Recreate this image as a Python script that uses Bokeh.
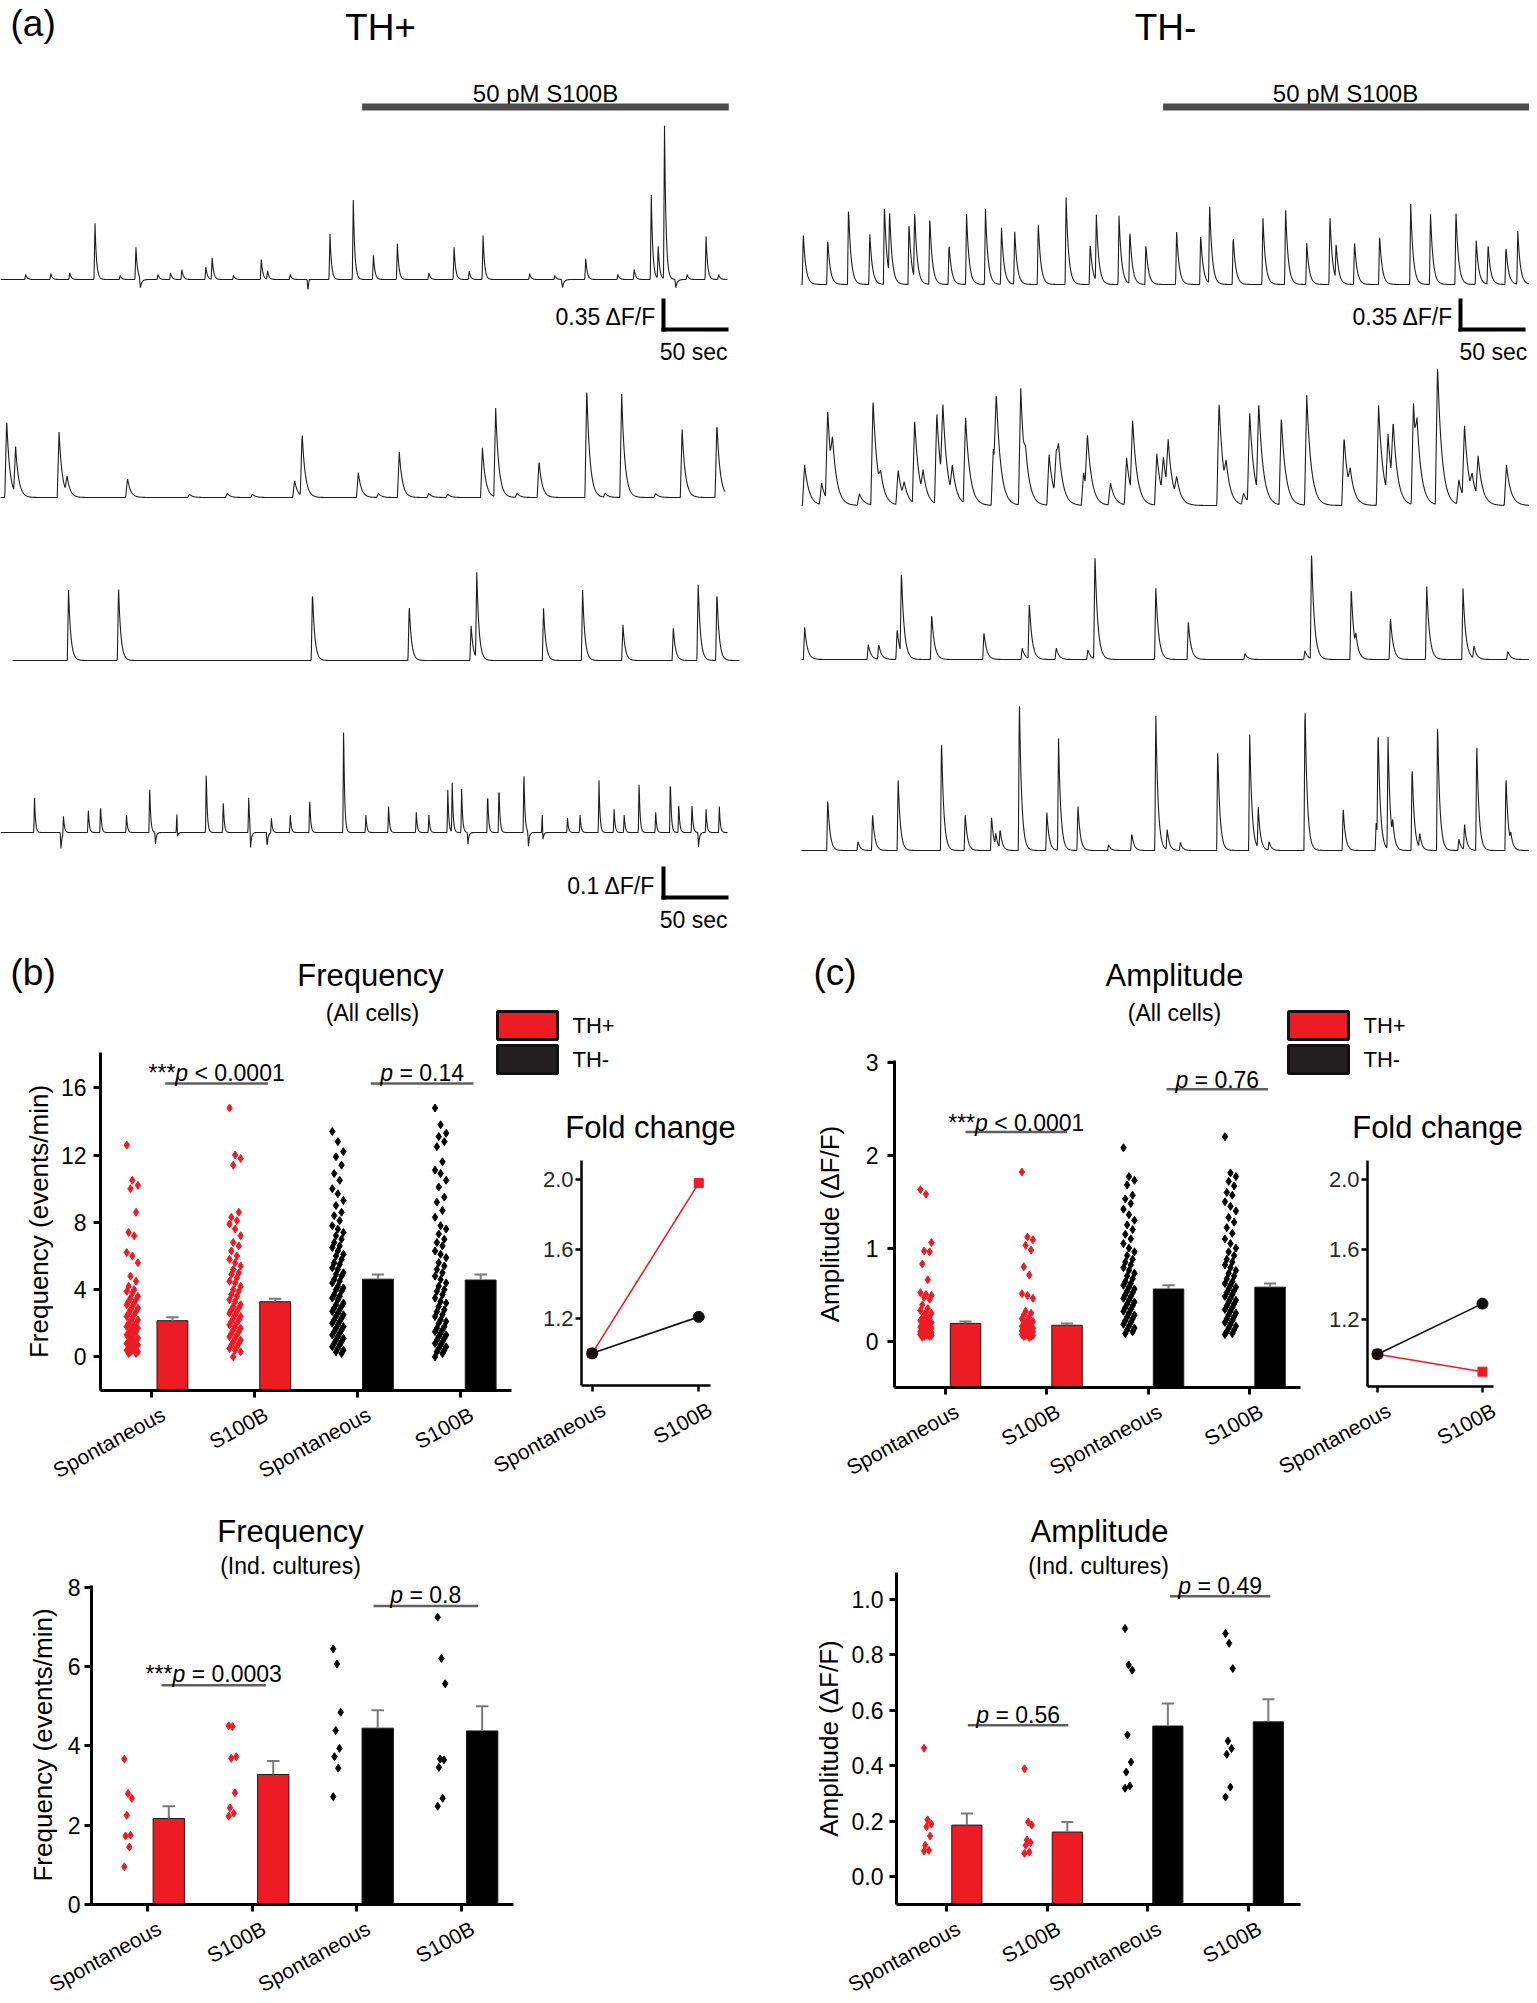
import numpy as np
from bokeh.plotting import figure
from bokeh.layouts import column
from bokeh.models import (Range1d, FixedTicker, Label, NumeralTickFormatter)
from bokeh.embed import file_html
from bokeh.resources import INLINE

# ======================= DATA =======================
categories = ["Spontaneous", "S100B", "Spontaneous", "S100B"]
cell_types = ["TH+", "TH+", "TH-", "TH-"]
legend_labels = ["TH+", "TH-"]
fold_categories = ["Spontaneous", "S100B"]

# --- (b) frequency, all cells (events/min)
freq_all_thp_spont = [12.6, 10.5, 10.2, 10.0, 8.6, 7.4, 7.2, 6.2, 6.0, 5.6, 4.8, 4.5, 4.2, 4.0, 3.9, 3.8,
                      3.6, 3.5, 3.4, 3.3, 3.2, 3.1, 3.0, 2.9, 2.8, 2.7, 2.6, 2.5, 2.4, 2.3, 2.2, 2.1, 2.0,
                      2.0, 1.9, 1.8, 1.7, 1.7, 1.6, 1.5, 1.4, 1.4, 1.3, 1.2, 1.1, 1.1, 1.0, 0.9, 0.9, 0.8,
                      0.8, 0.7, 0.6, 0.6, 0.5, 0.5, 0.4, 0.4, 0.3, 0.3, 0.2, 0.2]
freq_all_thp_s100b = [14.8, 12.0, 11.8, 11.4, 8.6, 8.3, 8.1, 7.9, 7.6, 7.2, 6.8, 6.6, 6.3, 6.0, 5.8, 5.6,
                      5.4, 5.2, 5.0, 4.9, 4.7, 4.5, 4.4, 4.2, 4.0, 3.9, 3.7, 3.6, 3.4, 3.3, 3.1, 3.0, 2.9,
                      2.8, 2.7, 2.6, 2.5, 2.4, 2.3, 2.2, 2.1, 2.0, 1.9, 1.8, 1.7, 1.6, 1.5, 1.4, 1.3, 1.2,
                      1.1, 1.0, 0.9, 0.8, 0.7, 0.6, 0.5, 0.4, 0.3, 0.0]
freq_all_thm_spont = [13.4, 12.8, 12.2, 11.9, 11.4, 10.9, 10.5, 10.0, 9.7, 9.3, 9.0, 8.6, 8.4, 8.1, 7.8,
                      7.6, 7.4, 7.2, 7.0, 6.8, 6.6, 6.5, 6.3, 6.1, 6.0, 5.8, 5.6, 5.5, 5.3, 5.2, 5.0, 4.9,
                      4.8, 4.6, 4.5, 4.4, 4.2, 4.1, 4.0, 3.9, 3.7, 3.6, 3.5, 3.4, 3.2, 3.1, 3.0, 2.9, 2.8,
                      2.7, 2.6, 2.5, 2.4, 2.3, 2.2, 2.1, 2.0, 1.9, 1.8, 1.7, 1.6, 1.5, 1.4, 1.3, 1.2, 1.1,
                      1.0, 0.9, 0.8, 0.7, 0.6, 0.5, 0.4, 0.3, 0.2]
freq_all_thm_s100b = [14.8, 13.8, 13.3, 13.1, 12.8, 12.5, 11.6, 11.1, 10.9, 10.5, 10.1, 9.5, 9.2, 8.7, 8.3,
                      7.8, 7.6, 7.3, 7.0, 6.8, 6.6, 6.3, 6.1, 5.9, 5.6, 5.4, 5.2, 5.0, 4.8, 4.6, 4.4, 4.2,
                      4.0, 3.9, 3.7, 3.5, 3.3, 3.2, 3.0, 2.8, 2.7, 2.5, 2.4, 2.2, 2.1, 2.0, 1.8, 1.7, 1.6,
                      1.5, 1.4, 1.3, 1.2, 1.1, 1.0, 0.9, 0.8, 0.7, 0.6, 0.5, 0.4, 0.3, 0.2, 0.0]
freq_all_mean = [2.15, 3.28, 4.62, 4.57]
freq_all_sem = [0.20, 0.17, 0.28, 0.33]

# --- (c) amplitude, all cells (dF/F)
amp_all_thp_spont = [1.63, 1.58, 1.06, 0.97, 0.96, 0.83, 0.66, 0.52, 0.50, 0.49, 0.47, 0.45, 0.39, 0.35,
                     0.33, 0.31, 0.30, 0.28, 0.26, 0.25, 0.24, 0.22, 0.21, 0.20, 0.19, 0.18, 0.17, 0.16,
                     0.15, 0.14, 0.14, 0.13, 0.12, 0.12, 0.11, 0.10, 0.10, 0.09, 0.09, 0.08, 0.08, 0.07,
                     0.07, 0.06, 0.06, 0.05, 0.05, 0.04]
amp_all_thp_s100b = [1.82, 1.12, 1.09, 1.03, 0.98, 0.80, 0.71, 0.51, 0.49, 0.46, 0.32, 0.30, 0.28, 0.26,
                     0.24, 0.22, 0.21, 0.20, 0.19, 0.18, 0.17, 0.16, 0.15, 0.14, 0.13, 0.13, 0.12, 0.11,
                     0.11, 0.10, 0.10, 0.09, 0.09, 0.08, 0.08, 0.07, 0.07, 0.06, 0.06, 0.05, 0.05, 0.04]
amp_all_thm_spont = [2.08, 1.77, 1.73, 1.68, 1.57, 1.53, 1.48, 1.42, 1.36, 1.30, 1.25, 1.20, 1.15, 1.10,
                     1.05, 1.00, 0.96, 0.92, 0.88, 0.85, 0.82, 0.79, 0.76, 0.73, 0.70, 0.67, 0.64, 0.62,
                     0.60, 0.58, 0.56, 0.54, 0.52, 0.50, 0.48, 0.46, 0.44, 0.42, 0.40, 0.38, 0.36, 0.34,
                     0.32, 0.30, 0.28, 0.26, 0.24, 0.22, 0.20, 0.18, 0.16, 0.14, 0.12, 0.10, 0.08]
amp_all_thm_s100b = [2.20, 1.81, 1.77, 1.72, 1.67, 1.60, 1.57, 1.50, 1.45, 1.40, 1.33, 1.28, 1.22, 1.16,
                     1.10, 1.05, 1.00, 0.96, 0.92, 0.88, 0.85, 0.82, 0.79, 0.76, 0.73, 0.70, 0.67, 0.64,
                     0.62, 0.60, 0.58, 0.56, 0.54, 0.52, 0.50, 0.48, 0.46, 0.44, 0.42, 0.40, 0.38, 0.36,
                     0.34, 0.32, 0.30, 0.28, 0.26, 0.24, 0.22, 0.20, 0.18, 0.16, 0.14, 0.12, 0.10, 0.08,
                     0.07]
amp_all_mean = [0.19, 0.17, 0.56, 0.58]
amp_all_sem = [0.02, 0.02, 0.04, 0.04]

# --- fold change (S100B / spontaneous)
fold_freq_thp = [1.00, 1.98]
fold_freq_thm = [1.00, 1.21]
fold_amp_thp = [1.00, 0.90]
fold_amp_thm = [1.00, 1.29]

# --- independent cultures
freq_ind_thp_spont = [3.67, 2.80, 2.68, 2.25, 1.75, 1.73, 1.45, 0.95]
freq_ind_thp_s100b = [4.51, 4.49, 3.73, 3.69, 2.82, 2.44, 2.30, 2.23]
freq_ind_thm_spont = [6.45, 6.07, 4.85, 4.39, 3.94, 3.73, 3.44, 2.72]
freq_ind_thm_s100b = [7.25, 6.21, 5.57, 3.67, 3.65, 3.46, 2.68, 2.48]
freq_ind_mean = [2.17, 3.28, 4.45, 4.38]
freq_ind_sem = [0.31, 0.34, 0.45, 0.62]

amp_ind_thp_spont = [0.463, 0.205, 0.190, 0.180, 0.147, 0.113, 0.095, 0.092]
amp_ind_thp_s100b = [0.389, 0.197, 0.186, 0.132, 0.123, 0.113, 0.089, 0.084]
amp_ind_thm_spont = [0.894, 0.763, 0.744, 0.511, 0.413, 0.377, 0.327, 0.319]
amp_ind_thm_s100b = [0.876, 0.841, 0.750, 0.489, 0.462, 0.441, 0.323, 0.287]
amp_ind_mean = [0.186, 0.161, 0.543, 0.558]
amp_ind_sem = [0.042, 0.036, 0.081, 0.081]

# --- statistics text (stars, relation) and bracket heights
freq_all_p = [("***", "< 0.0001"), ("", "= 0.14")]
freq_all_sig_y = [16.25, 16.25]
amp_all_p = [("***", "< 0.0001"), ("", "= 0.76")]
amp_all_sig_y = [2.25, 2.71]
freq_ind_p = [("***", "= 0.0003"), ("", "= 0.8")]
freq_ind_sig_y = [5.53, 7.53]
amp_ind_p = [("", "= 0.56"), ("", "= 0.49")]
amp_ind_sig_y = [0.546, 1.01]

# --- (a) calcium traces: events (time s, amplitude dF/F); negative = dip
s100b_on, s100b_off = 287.0, 578.0
scale_sec = 50
scale_df = [0.35, 0.1]

th_pos_1 = [(20, 0.06), (40, 0.07), (55, 0.08), (75, 0.68), (95, 0.05), (107.5, 0.39), (111, -0.12),
            (125, 0.06), (135, 0.08), (144, 0.12), (163, 0.15), (168, 0.26), (185, 0.05), (207, 0.24),
            (212, 0.10), (230, 0.06), (244, -0.12), (245, 0.05), (261.5, 0.55), (280, 0.96), (296, 0.29),
            (315, 0.43), (340, 0.08), (360, 0.39), (372, 0.10), (383, 0.53), (420, 0.07), (440, 0.05),
            (446, -0.1), (464.5, 0.25), (490, 0.06), (503, 0.12), (516.5, 1.02), (522, 0.39), (527, 1.85),
            (536, -0.1), (545, 0.06), (560, 0.52), (570, 0.06)]
th_pos_2 = [(4.9, 0.94), (12, 0.56), (46.5, 0.79), (52.8, 0.20), (100.8, 0.23), (150, 0.04), (180, 0.05),
            (200, 0.04), (233.4, 0.21), (239.4, 0.76), (284, 0.30), (300, 0.05), (316.5, 0.55), (340, 0.05),
            (355, 0.04), (382.5, 0.60), (393, 1.07), (410, 0.05), (427.4, 0.44), (465.3, 1.31),
            (480, 0.05), (493, 1.25), (520, 0.05), (541, 0.82), (568.6, 0.90)]
th_pos_3 = [(54, 0.85), (93.7, 0.88), (247.6, 0.84), (324.4, 0.67), (373.5, 0.42), (378, 1.03),
            (431, 0.63), (462, 0.85), (494, 0.43), (534, 0.39), (553.7, 0.94), (568.6, 0.84)]
th_pos_4 = [(27, 0.12), (48, -0.055), (50, 0.06), (69.7, 0.08), (79.4, 0.095), (100, 0.06), (118.4, 0.167),
            (123, -0.04), (140, 0.07), (140.5, -0.05), (163.3, 0.213), (176.8, 0.11), (197, 0.12),
            (198.5, -0.07), (211.6, -0.05), (215, 0.05), (230, 0.06), (245.4, 0.12), (272.3, 0.376),
            (290, 0.06), (308, 0.09), (330, 0.07), (340, 0.06), (355, 0.147), (358.5, 0.17), (366, 0.15),
            (371, -0.04), (386.6, 0.14), (395.6, 0.165), (415.4, 0.22), (419, -0.05), (430, 0.07),
            (430.5, -0.06), (450, 0.05), (460, 0.06), (475, 0.18), (487, 0.08), (495, 0.06),
            (506.8, 0.18), (520, 0.07), (531.6, 0.19), (538.3, 0.10), (548.8, 0.10), (554, -0.05),
            (560, 0.08), (570.5, 0.09)]
th_neg_1 = [(1.4, 0.62), (20.8, 0.55), (37.3, 0.94), (54.2, 0.62), (65.8, 0.97), (69.9, 0.78), (85.3, 0.75),
            (89.8, 0.82), (101.8, 0.82), (117.1, 0.49), (131, 0.85), (146, 0.91), (158.7, 0.70),
            (169.2, 0.65), (187.9, 0.75), (210, 1.05), (229.1, 0.50), (234, 0.80), (252, 0.83),
            (260.6, 0.65), (273.3, 0.49), (297.7, 0.65), (316.8, 0.61), (323.9, 0.97), (342.6, 0.59),
            (366.2, 0.82), (384.2, 0.92), (401, 0.50), (419.4, 0.84), (424.3, 0.43), (438.9, 0.52),
            (458.8, 0.60), (483.5, 0.97), (499.2, 0.87), (519.4, 0.90), (535.5, 0.53), (544.9, 0.48),
            (559.1, 0.46), (568.5, 0.64)]
th_neg_2 = [(2.5, 0.49), (16, 0.26), (20.8, 1.09), (24.6, 0.45), (46, 0.14), (56.8, 1.27), (62.8, 0.2),
            (76.7, 0.42), (81.5, 0.18), (89.8, 1.01), (96.5, 0.28), (107.4, 1.11), (112.2, 0.95),
            (119.7, 0.35), (130.2, 1.05), (152.3, 0.7), (154.6, 1.0), (174, 1.41), (177.8, 0.25),
            (196.5, 0.61), (202.2, 0.55), (204, 0.35), (223.9, 0.40), (226.9, 0.7), (245.2, 0.27),
            (258, 0.57), (262.8, 0.9), (282, 0.62), (287.2, 0.45), (291, 0.6), (297.7, 0.24),
            (331.4, 1.25), (337, 0.3), (350.9, 0.14), (355.7, 1.09), (362.9, 1.1), (380.8, 1.06),
            (401, 1.33), (430.6, 0.83), (435.5, 0.25), (458, 1.21), (465.5, 0.72), (469.6, 0.75),
            (485.7, 1.24), (488.5, 0.5), (504.8, 1.68), (521.7, 0.30), (526.2, 0.89), (532.2, 0.22),
            (537, 0.50), (559.5, 0.49)]
th_neg_3 = [(2.5, 0.39), (53, 0.18), (61.3, 0.18), (75.9, 0.37), (79.3, 0.99), (103.3, 0.55),
            (144.8, 0.33), (175.2, 0.14), (180.8, 0.68), (202.2, 0.14), (227.3, 0.12), (232.9, 1.27),
            (281.2, 0.88), (307, 0.45), (352, 0.07), (399.6, 0.11), (404.8, 1.31), (436.3, 0.87),
            (440, 0.16), (467.4, 0.51), (496.2, 0.90), (525, 0.86), (533.7, 0.15), (560.6, 0.10)]
th_neg_4 = [(20.8, 0.63), (44.8, 0.11), (56.4, 0.45), (76.7, 0.87), (111.1, 1.38), (129.9, 0.45),
            (150.8, 0.42), (154.2, 0.15), (157.6, 0.23), (172.9, 1.84), (194.7, 0.47), (204, 1.35),
            (219.4, 0.56), (243.7, 0.07), (262.1, 0.21), (281.2, 1.67), (290.2, 0.25), (300.7, 0.10),
            (330.3, 1.25), (355.7, 1.44), (362.5, 0.49), (371.1, 0.11), (399.6, 1.80), (429.9, 0.52),
            (456.1, 0.36), (457.6, 1.33), (465.5, 1.35), (469.2, 0.21), (484.6, 1.04), (490.6, 0.18),
            (504.8, 1.56), (521.7, 0.14), (526.2, 0.31), (535.9, 1.31), (559.1, 0.92), (562.9, 0.12)]

# ======================= STYLE / LAYOUT =======================
W, H = 1529, 1995
FONT = "Liberation Sans"
RED = "#ED1C24"
BLK = "#000000"
SIGC = "#5f5f5f"
ERRC = "#7a7a7a"
TRACEC = "#1e1e1e"
BAR_OFF, SC_OFF = 0.2, -0.19

CW = {" ": .278, ".": .278, "<": .584, "=": .584, "*": .389, "p": .556}


def text_w(s, size):
    return sum(CW.get(c, .556) for c in s) * size


def base_fig(L, T, R, B, xr, yr, axes=True, bg=False):
    kw = dict(width=W, height=H, x_range=xr, y_range=yr, output_backend="svg", toolbar_location=None,
              min_border_left=int(round(L)), min_border_right=int(round(W - R)),
              min_border_top=int(round(T)), min_border_bottom=int(round(H - B)))
    if not axes:
        kw.update(x_axis_type=None, y_axis_type=None)
    p = figure(**kw)
    p.frame_align = False
    p.outline_line_color = None
    if not bg:
        p.border_fill_alpha = 0
        p.background_fill_alpha = 0
        p.margin = (-H, 0, 0, 0)
    else:
        p.margin = (0, 0, 0, 0)
    for g in p.grid:
        g.visible = False
    return p


# ---------------- page figure (free text layer, page pixel coordinates) ----------------
page = base_fig(0, 0, W, H, Range1d(0, W), Range1d(H, 0), axes=False, bg=True)
page.min_border = 0


def style_axes(p, tick_fs="23px", lw=3, tick_out=7, color="black"):
    for ax in p.axis:
        ax.axis_line_width = lw
        ax.axis_line_color = "black"
        ax.major_tick_line_width = lw
        ax.major_tick_line_color = "black"
        ax.major_tick_out = tick_out
        ax.major_tick_in = 0
        ax.minor_tick_line_color = None
        ax.major_label_text_font = FONT
        ax.major_label_text_font_size = tick_fs
        ax.major_label_text_color = color
        ax.axis_label_text_font = FONT
        ax.axis_label_text_font_style = "normal"
        ax.axis_label_text_font_size = "26px"
        ax.axis_label_text_color = "black"


def set_xcats(p, labels, frame, xr, fs="21px"):
    """category ticks on the x axis; slanted category names written just below each tick"""
    L, T, R, B = frame
    ax = p.xaxis[0]
    ticks = list(range(len(labels)))
    ax.ticker = FixedTicker(ticks=ticks)
    ax.major_label_overrides = {i: "" for i in ticks}
    ax.axis_label = None
    ax.axis_label_standoff = 0
    ax.major_label_standoff = 0
    for i, lab in zip(ticks, labels):
        xp = L + (i - xr[0]) / (xr[1] - xr[0]) * (R - L)
        page.add_layout(Label(x=xp + 6, y=B + 12, text=lab, angle=0.5, angle_units="rad",
                              text_align="right", text_baseline="top", text_font=FONT,
                              text_font_size=fs, text_color="black"))


def sig_text(p, xc, y, stars, rest, dy=10, fs=23):
    ws, wp, wsp, wr = text_w(stars, fs), text_w("p", fs), text_w(" ", fs), text_w(rest, fs)
    start = -(ws + wp + wsp + wr) / 2
    common = dict(x=xc, y=y, y_offset=dy, text_font=FONT, text_font_size=f"{fs}px",
                  text_align="left", text_baseline="alphabetic", text_color="black")
    if stars:
        p.add_layout(Label(x_offset=start, text=stars, **common))
    p.add_layout(Label(x_offset=start + ws, text="p", text_font_style="italic", **common))
    p.add_layout(Label(x_offset=start + ws + wp + wsp, text=rest, **common))


def bar_panel(frame, xr, yr, yticks, yfmt, ylabel, groups, means, sems, sig_x0, sig_y, p_txt,
              lab_so, ax_so, jit, dy_sig):
    L, T, R, B = frame
    p = base_fig(L, T, R, B, Range1d(*xr), Range1d(*yr))
    xs = np.arange(len(categories), dtype=float)
    colors = [RED if c == "TH+" else BLK for c in cell_types]
    p.vbar(x=xs + BAR_OFF, top=means, bottom=yr[0], width=0.3, fill_color=colors,
           line_color="#1a1a1a", line_width=1)
    tops = np.array(means) + np.array(sems)
    p.segment(x0=xs + BAR_OFF, y0=means, x1=xs + BAR_OFF, y1=tops, line_color=ERRC, line_width=2)
    p.segment(x0=xs + BAR_OFF - 0.06, y0=tops, x1=xs + BAR_OFF + 0.06, y1=tops,
              line_color=ERRC, line_width=2)
    for g, vals in enumerate(groups):
        n = len(vals)
        jx = g + SC_OFF + np.array([((i * 3) % 7 - 3) for i in range(n)]) * jit
        p.scatter(jx, vals, marker="diamond", size=8, fill_color=colors[g], line_color=colors[g])
    sx0 = np.array(sig_x0, dtype=float)
    p.segment(x0=sx0, y0=sig_y, x1=sx0 + 1.0, y1=sig_y, line_color=SIGC, line_width=2.5)
    for k in range(len(sig_x0)):
        sig_text(p, sx0[k] + 0.5, sig_y[k], p_txt[k][0], p_txt[k][1], dy=dy_sig)
    style_axes(p)
    set_xcats(p, categories, frame, xr)
    ya = p.yaxis[0]
    ya.ticker = FixedTicker(ticks=yticks)
    if yfmt:
        ya.formatter = NumeralTickFormatter(format=yfmt)
    ya.axis_label = ylabel
    ya.major_label_standoff = lab_so
    ya.axis_label_standoff = ax_so
    return p


def fold_panel(frame, xr, thp, thm):
    L, T, R, B = frame
    yr = (0.815, 2.11)
    p = base_fig(L, T, R, B, Range1d(*xr), Range1d(*yr))
    xs = np.arange(len(fold_categories), dtype=float)
    p.line(xs, thp, line_color=RED, line_width=1.6)
    p.scatter(xs, thp, marker="square", size=9, fill_color=RED, line_color=RED)
    p.line(xs, thm, line_color="#111111", line_width=1.6)
    p.scatter(xs, thm, marker="circle", size=11, fill_color="#111111", line_color="#111111")
    style_axes(p, tick_fs="22px", lw=2.5, tick_out=6, color="#2a2a2a")
    set_xcats(p, fold_categories, frame, xr)
    ya = p.yaxis[0]
    ya.ticker = FixedTicker(ticks=[1.2, 1.6, 2.0])
    ya.formatter = NumeralTickFormatter(format="0.0")
    ya.major_label_standoff = 2
    return p


def ptext(txt, x, y, side, fs, align="center", base="alphabetic"):
    lx = x - (8 if side == "R" else 0)
    page.add_layout(Label(x=lx, y=y - 8, text=txt, text_font=FONT, text_font_size=f"{fs}px",
                          text_align=align, text_baseline=base, text_color="black"))


ptext("(a)", 10, 31, "L", 37, "left", "middle")
ptext("TH+", 380, 35, "L", 37)
ptext("TH-", 1173, 35, "R", 37)
ptext("50 pM S100B", 545, 101, "L", 24)
ptext("50 pM S100B", 1353, 101, "R", 24)
ptext("0.35 \u0394F/F", 656, 324, "L", 23, "right", "middle")
ptext("50 sec", 727, 359, "L", 23, "right", "middle")
ptext("0.1 \u0394F/F", 655, 893, "L", 23, "right", "middle")
ptext("50 sec", 727, 927, "L", 23, "right", "middle")
ptext("0.35 \u0394F/F", 1461, 324, "R", 23, "right", "middle")
ptext("50 sec", 1467, 359, "R", 23, "left", "middle")
ptext("(b)", 10, 980, "L", 37, "left", "middle")
ptext("(c)", 821, 980, "R", 37, "left", "middle")
ptext("Frequency", 370, 983, "L", 31)
ptext("(All cells)", 372, 1020, "L", 23)
ptext("Amplitude", 1182, 983, "R", 31)
ptext("(All cells)", 1182, 1020, "R", 23)
ptext("Fold change", 650, 1135, "L", 31)
ptext("Fold change", 1445, 1135, "R", 31)
ptext("Frequency", 290, 1539, "L", 31)
ptext("(Ind. cultures)", 290, 1573, "L", 23)
ptext("Amplitude", 1107, 1539, "R", 31)
ptext("(Ind. cultures)", 1106, 1573, "R", 23)

# legends (TH+ / TH- boxes) for (b) and (c)
for lx in (497, 1296 - 8):
    tops = [1011, 1045]
    page.quad(left=lx, right=lx + 60, top=tops, bottom=[t + 28 for t in tops],
              fill_color=[RED, "#231f20"], line_color="#111111", line_width=3)
    for t, lab in zip(tops, legend_labels):
        page.add_layout(Label(x=lx + 75, y=t + 14, text=lab, text_font=FONT, text_font_size="22px",
                              text_align="left", text_baseline="middle", text_color="black"))

# ---------------- (a) trace figures ----------------
PXU = 29 / 0.35          # px per dF/F
SPP = 50 / 63            # seconds per px
FT, FB = 52, 932


def render(events, t0, t1, rise, tau, dt=0.25):
    t = np.arange(t0, t1 + dt / 2, dt)
    y = np.zeros_like(t)
    for tp, a in events:
        s = t - tp
        k = np.where(s >= 0, np.exp(-np.clip(s, 0, None) / tau), np.clip(1 + s / rise, 0, None))
        y += a * k
    return t, y


def trace_fig(xL, xR, t_lo, t_hi, rows, baselines_ref, scale_corners):
    p = base_fig(xL, FT, xR, FB, Range1d(t_lo, t_hi), Range1d(0, (FB - FT) / PXU), axes=False)
    for (ev, t0, t1, rise, tau, gain), yb in zip(rows, baselines_ref):
        off = (FB - (yb - 8)) / PXU
        t, y = render(ev, t0, t1, rise, tau)
        p.line(t, off + gain * y, line_color=TRACEC, line_width=1.1)
    ybar = (FB - (114.5 - 8)) / PXU
    p.segment(x0=[s100b_on], y0=[ybar], x1=[s100b_off], y1=[ybar], line_color="#4d4d4d",
              line_width=7, line_cap="butt")
    for (tc, ycref, dfv, gain) in scale_corners:
        yc = (FB - (ycref - 8)) / PXU
        p.segment(x0=[tc, tc], y0=[yc, yc], x1=[tc + scale_sec, tc], y1=[yc, yc + dfv * gain],
                  line_color="black", line_width=4, line_cap="square")
    return p


left_rows = [(th_pos_1, 0, 577, 0.8, 1.2, 1.0), (th_pos_2, 0, 575, 1.5, 2.5, 1.0),
             (th_pos_3, 9.5, 586.5, 1.0, 1.8, 1.0), (th_pos_4, 0, 577, 0.6, 0.8, 3.5)]
fa_left = trace_fig(0, 740, 0, 740 * SPP, left_rows, [287, 505, 668, 840],
                    [(663 * SPP, 337, scale_df[0], 1.0), (663 * SPP, 905, scale_df[1], 3.5)])
right_rows = [(th_neg_1, 0, 577.8, 0.8, 2.0, 1.0), (th_neg_2, 0, 577.8, 1.8, 3.5, 1.0),
              (th_neg_3, 0, 577.8, 1.0, 2.2, 1.0), (th_neg_4, 0, 577.8, 0.8, 1.8, 1.0)]
fa_right = trace_fig(792, W, (800 - 809) * SPP, (1537 - 809) * SPP, right_rows, [292, 513, 667, 858],
                     [((1468 - 809) * SPP, 337, scale_df[0], 1.0)])

# ---------------- (b), (c) ----------------
fb_all = bar_panel((100, 1052, 511, 1390), (-0.5, 3.5), (-2, 18.1), [0, 4, 8, 12, 16], None,
                   "Frequency (events/min)",
                   [freq_all_thp_spont, freq_all_thp_s100b, freq_all_thm_spont, freq_all_thm_s100b],
                   freq_all_mean, freq_all_sem, [0.13, 2.13], freq_all_sig_y, freq_all_p,
                   7, 4, 0.018, 11)
fb_fold = fold_panel((581, 1160, 710, 1385), (-0.1, 1.11), fold_freq_thp, fold_freq_thm)

fc_all = bar_panel((894, 1060, 1300, 1387), (-0.5, 3.5), (-0.5, 3.02), [0, 1, 2, 3], None,
                   "Amplitude (\u0394F/F)",
                   [amp_all_thp_spont, amp_all_thp_s100b, amp_all_thm_spont, amp_all_thm_s100b],
                   amp_all_mean, amp_all_sem, [0.2, 2.18], amp_all_sig_y, amp_all_p,
                   9, 18, 0.018, 9)
fc_fold = fold_panel((1367, 1160, 1493, 1386), (-0.095, 1.105), fold_amp_thp, fold_amp_thm)

fb_ind = bar_panel((91, 1585, 513, 1904), (-0.54, 3.5), (0, 8.05), [0, 2, 4, 6, 8], None,
                   "Frequency (events/min)",
                   [freq_ind_thp_spont, freq_ind_thp_s100b, freq_ind_thm_spont, freq_ind_thm_s100b],
                   freq_ind_mean, freq_ind_sem, [0.13, 2.16], freq_ind_sig_y, freq_ind_p,
                   4, 7, 0.012, 11)
fc_ind = bar_panel((896, 1572, 1300, 1904), (-0.5, 3.52), (-0.1, 1.096), [0, 0.2, 0.4, 0.6, 0.8, 1.0],
                   "0.0", "Amplitude (\u0394F/F)",
                   [amp_ind_thp_spont, amp_ind_thp_s100b, amp_ind_thm_spont, amp_ind_thm_s100b],
                   amp_ind_mean, amp_ind_sem, [0.21, 2.22], amp_ind_sig_y, amp_ind_p,
                   6, 5, 0.012, 10)

figs = [page, fa_left, fa_right, fb_all, fb_fold, fc_all, fc_fold, fb_ind, fc_ind]
layout = column(*figs, spacing=0)

with open("out.html", "w") as fh:
    fh.write(file_html(layout, INLINE, title="S100B calcium imaging"))
